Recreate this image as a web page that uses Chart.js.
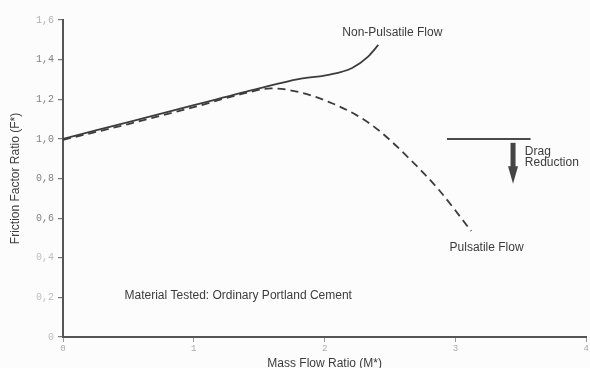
<!DOCTYPE html>
<html>
<head>
<meta charset="utf-8">
<script src="https://cdn.jsdelivr.net/npm/chart.js@4/dist/chart.umd.min.js"></script>
<style>
  html, body { margin: 0; padding: 0; background: #fcfcfc; }
  #wrap { width: 590px; height: 368px; position: relative; }
</style>
</head>
<body>
<div id="wrap"><canvas id="c" width="590" height="368"></canvas></div>
<script>
// Mass flow ratio M* and friction factor ratio F* for each regime
const nonPulsatileM = [0, 0.5, 1.0, 1.5, 1.8, 2.03, 2.21, 2.33, 2.41];
const nonPulsatileF = [1.0, 1.085, 1.17, 1.255, 1.302, 1.323, 1.358, 1.414, 1.474];

const pulsatileM = [0, 0.5, 1.0, 1.4, 1.59, 1.8, 2.03, 2.24, 2.41, 2.64, 2.87, 3.12];
const pulsatileF = [0.995, 1.075, 1.16, 1.232, 1.255, 1.237, 1.187, 1.121, 1.045, 0.905, 0.745, 0.535];

// Reference level for the drag-reduction marker
const dragLevelM = [2.935, 3.574];
const dragLevelF = [1.0, 1.0];

const yTicks = [0, 0.2, 0.4, 0.6, 0.8, 1.0, 1.2, 1.4, 1.6];
const xTicks = [0, 1, 2, 3, 4];

const toPoints = (xs, ys) => xs.map((x, i) => ({ x: x, y: ys[i] }));
const commaLabel = v => (v === 0 ? '0' : v.toFixed(1).replace('.', ','));

const ink = '#3c3c3c';
const sans = '"Liberation Sans", Arial, sans-serif';
const mono = '"Liberation Mono", "DejaVu Sans Mono", monospace';
const textFont = '12px ' + sans;

// Text notes and the arrow, placed in data units
const notes = [
  { text: 'Non-Pulsatile Flow', m: 2.135, f: 1.535 },
  { text: 'Pulsatile Flow', m: 2.955, f: 0.45 },
  { text: 'Drag', m: 3.53, f: 0.937 },
  { text: 'Reduction', m: 3.53, f: 0.878 },
  { text: 'Material Tested: Ordinary Portland Cement', m: 0.47, f: 0.207 }
];
const arrow = { m: 3.44, top: 0.98, headBase: 0.862, tip: 0.773 };

const annotate = {
  id: 'annotate',
  afterDatasetsDraw(chart) {
    const { ctx, scales: { x, y } } = chart;
    ctx.save();
    ctx.fillStyle = ink;
    ctx.font = textFont;
    ctx.textAlign = 'left';
    ctx.textBaseline = 'middle';
    notes.forEach(n => ctx.fillText(n.text, x.getPixelForValue(n.m), y.getPixelForValue(n.f)));

    const ax = x.getPixelForValue(arrow.m);
    ctx.fillStyle = '#444';
    ctx.fillRect(ax - 2.5, y.getPixelForValue(arrow.top), 5, y.getPixelForValue(arrow.headBase) - y.getPixelForValue(arrow.top) + 1);
    ctx.beginPath();
    ctx.moveTo(ax - 5, y.getPixelForValue(arrow.headBase));
    ctx.lineTo(ax + 5, y.getPixelForValue(arrow.headBase));
    ctx.lineTo(ax, y.getPixelForValue(arrow.tip));
    ctx.closePath();
    ctx.fill();
    ctx.restore();
  }
};

const tickColor = v => {
  if (v >= 1.55) return '#b0b0b0';
  if (v <= 0.45) return '#bdbdbd';
  return '#808080';
};

new Chart(document.getElementById('c'), {
  type: 'line',
  data: {
    datasets: [
      {
        label: 'Non-Pulsatile Flow',
        data: toPoints(nonPulsatileM, nonPulsatileF),
        borderColor: ink,
        borderWidth: 1.8,
        pointRadius: 0,
        cubicInterpolationMode: 'monotone',
        fill: false
      },
      {
        label: 'Pulsatile Flow',
        data: toPoints(pulsatileM, pulsatileF),
        borderColor: ink,
        borderWidth: 1.8,
        borderDash: [8, 5],
        pointRadius: 0,
        cubicInterpolationMode: 'monotone',
        fill: false
      },
      {
        label: 'Drag Reduction',
        data: toPoints(dragLevelM, dragLevelF),
        borderColor: '#4a4a4a',
        borderWidth: 2,
        pointRadius: 0,
        fill: false
      }
    ]
  },
  options: {
    responsive: false,
    animation: false,
    layout: { padding: { top: 20, right: 2, left: 0, bottom: 0 } },
    plugins: { legend: { display: false }, tooltip: { enabled: false } },
    scales: {
      x: {
        type: 'linear',
        min: 0,
        max: 4,
        afterBuildTicks: s => { s.ticks = xTicks.map(v => ({ value: v })); },
        afterFit: s => { s.height = 31; },
        border: { display: true, color: '#555', width: 2 },
        grid: { display: true, drawOnChartArea: false, drawTicks: true, tickLength: 5, color: '#999', lineWidth: 1 },
        ticks: {
          padding: 1,
          color: '#aaa',
          font: { family: mono, size: 9 },
          callback: v => String(v)
        },
        title: {
          display: true,
          text: 'Mass Flow Ratio (M*)',
          color: ink,
          font: { family: sans, size: 12, lineHeight: 1 },
          padding: { top: 0, bottom: -2 }
        }
      },
      y: {
        type: 'linear',
        min: 0,
        max: 1.6,
        afterBuildTicks: s => { s.ticks = yTicks.map(v => ({ value: v })); },
        afterFit: s => { s.width = 63; },
        border: { display: true, color: '#555', width: 2 },
        grid: { display: true, drawOnChartArea: false, drawTicks: true, tickLength: 5, color: '#777', lineWidth: 1.2 },
        ticks: {
          padding: 4,
          color: ctx => tickColor(ctx.tick.value),
          font: { family: mono, size: 10 },
          callback: v => commaLabel(v)
        },
        title: {
          display: true,
          text: 'Friction Factor Ratio (F*)',
          color: ink,
          font: { family: sans, size: 12, lineHeight: 1 },
          padding: { top: 10, bottom: 0 }
        }
      }
    }
  },
  plugins: [annotate]
});
</script>
</body>
</html>
